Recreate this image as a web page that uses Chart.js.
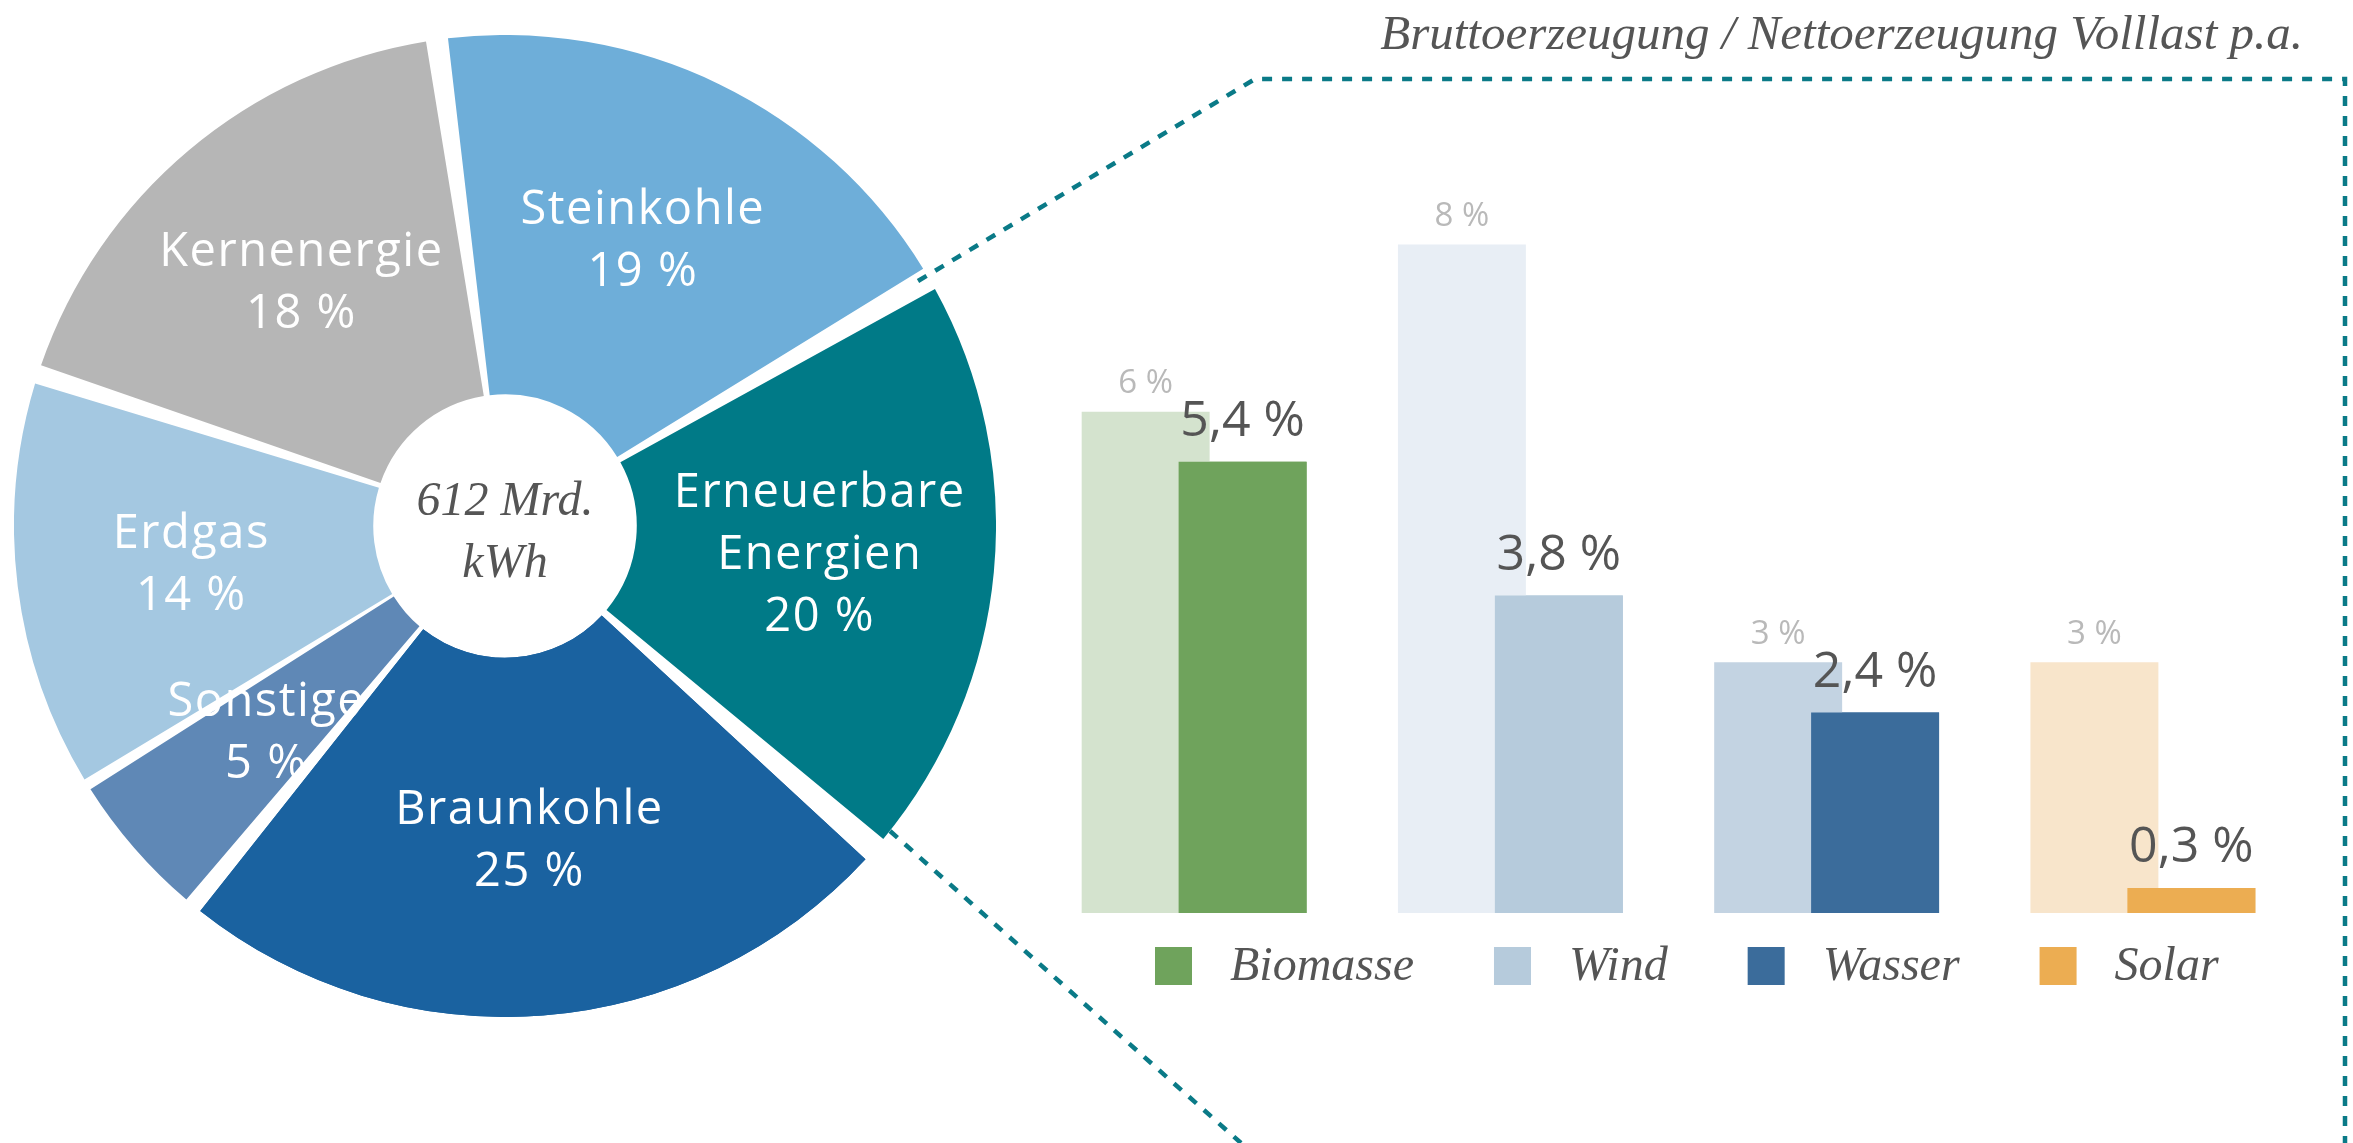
<!DOCTYPE html>
<html lang="de">
<head>
    <meta charset="UTF-8">
    <title>Stromerzeugung 612 Mrd. kWh</title>
    <script src="https://cdn.jsdelivr.net/npm/chart.js"></script>
    <style>
        body { margin: 0; background: #fff; }
        .stage { position: relative; width: 2353px; height: 1143px; overflow: hidden; }
        #pieWrap { position: absolute; left: 14px; top: 35px; width: 982px; height: 982px; }
        #barWrap { position: absolute; left: 1036px; top: 161px; width: 1265px; height: 880px; }
        .caption {
            position: absolute; right: 50px; top: 4px;
            font: italic 49px "Liberation Serif", serif; color: #555; white-space: nowrap;
        }
        svg.frame { position: absolute; left: 0; top: 0; }
    </style>
</head>
<body>
    <div class="stage">
        <svg class="frame" width="2353" height="1143">
            <polyline points="918,281 1255,79 2345,79 2345,1143" fill="none"
                      stroke="#0a7a87" stroke-width="4.5" stroke-dasharray="10 10"/>
            <line x1="890" y1="831" x2="1241" y2="1143"
                  stroke="#0a7a87" stroke-width="4.5" stroke-dasharray="10 10"/>
        </svg>
        <div class="caption">Bruttoerzeugung / Nettoerzeugung Volllast p.a.</div>
        <div id="pieWrap"><canvas id="mixChart"></canvas></div>
        <div id="barWrap"><canvas id="renewChart"></canvas></div>
    </div>

    <script>
        // Strommix (Anteile in %)
        const mixLabels = ['Steinkohle', ['Erneuerbare', 'Energien'], 'Braunkohle', 'Sonstige', 'Erdgas', 'Kernenergie'];
        const mixShare = [19, 20, 25, 5, 14, 18];
        const mixColors = ['#6eaed9', '#007a87', '#1a62a0', '#5f88b6', '#a4c8e1', '#b6b6b6'];
        const totalLines = ['612 Mrd.', 'kWh'];

        // Erneuerbare: brutto / netto (Volllast p.a.)
        const sources = ['Biomasse', 'Wind', 'Wasser', 'Solar'];
        const grossShare = [6, 8, 3, 3];
        const netShare = [5.4, 3.8, 2.4, 0.3];
        const grossColors = ['#d4e3ce', '#e8eef5', '#c3d3e2', '#f8e5cb'];
        const netColors = ['#6fa35c', '#b6cbdc', '#3b6c9b', '#ecad52'];

        function formatPercent(v) {
            return v.toLocaleString('de-DE') + ' %';
        }

        const mixLabelPlugin = {
            id: 'mixLabels',
            afterDatasetsDraw(chart) {
                const ctx = chart.ctx;
                const meta = chart.getDatasetMeta(0);
                ctx.save();
                ctx.textAlign = 'center';
                ctx.textBaseline = 'middle';
                ctx.fillStyle = '#fff';

                const drawLabel = (arc, i) => {
                    const p = arc.getProps(['x', 'y', 'startAngle', 'endAngle', 'outerRadius'], true);
                    const mid = (p.startAngle + p.endAngle) / 2;
                    const r = p.outerRadius * 0.66;
                    const cx = p.x + Math.cos(mid) * r;
                    const cy = p.y + Math.sin(mid) * r;
                    const name = Array.isArray(mixLabels[i]) ? mixLabels[i] : [mixLabels[i]];
                    const lines = name.concat(formatPercent(mixShare[i]));
                    const lh = 62;
                    ctx.font = '47px "Open Sans"';
                    ctx.letterSpacing = '1.5px';
                    lines.forEach((t, k) => {
                        ctx.fillText(t, cx, cy - (lines.length - 1) * lh / 2 + k * lh);
                    });
                };

                // "Sonstige" liegt unter dem Braunkohle-Segment
                drawLabel(meta.data[3], 3);
                meta.data[2].draw(ctx);
                meta.data.forEach((arc, i) => { if (i !== 3) drawLabel(arc, i); });

                // Mitte
                const c = meta.data[0].getProps(['x', 'y'], true);
                ctx.letterSpacing = '0px';
                ctx.fillStyle = '#555';
                ctx.font = 'italic 48px "Liberation Serif"';
                ctx.fillText(totalLines[0], c.x, c.y - 24);
                ctx.fillText(totalLines[1], c.x, c.y + 38);
                ctx.restore();
            }
        };

        const renewLabelPlugin = {
            id: 'renewLabels',
            afterDatasetsDraw(chart) {
                const ctx = chart.ctx;
                const gross = chart.getDatasetMeta(0);
                const net = chart.getDatasetMeta(1);
                // Nettobalken vor die Bruttobalken legen
                net.data.forEach(bar => bar.draw(ctx));

                ctx.save();
                ctx.textAlign = 'center';
                ctx.textBaseline = 'middle';
                ctx.font = '33px "Open Sans"';
                ctx.fillStyle = '#b9b9b9';
                gross.data.forEach((bar, i) => ctx.fillText(formatPercent(grossShare[i]), bar.x, bar.y - 28));
                ctx.font = '50px "Open Sans"';
                ctx.fillStyle = '#555';
                net.data.forEach((bar, i) => ctx.fillText(formatPercent(netShare[i]), bar.x, bar.y - 40));

                // Legende
                ctx.textAlign = 'left';
                ctx.textBaseline = 'alphabetic';
                ctx.font = 'italic 48px "Liberation Serif"';
                let x = 119;
                sources.forEach((name, i) => {
                    ctx.fillStyle = netColors[i];
                    ctx.fillRect(x, 786, 37, 38);
                    ctx.fillStyle = '#555';
                    ctx.fillText(name, x + 37 + 38, 819);
                    x += 37 + 38 + ctx.measureText(name).width + 80;
                });
                ctx.restore();
            }
        };

        new Chart(document.getElementById('mixChart'), {
            type: 'doughnut',
            data: {
                labels: mixLabels,
                datasets: [{
                    data: mixShare,
                    backgroundColor: mixColors,
                    borderWidth: 0,
                    spacing: 24
                }]
            },
            options: {
                responsive: true,
                maintainAspectRatio: false,
                animation: false,
                cutout: '25%',
                rotation: -8,
                layout: { padding: 0 },
                plugins: { legend: { display: false }, tooltip: { enabled: false } }
            },
            plugins: [mixLabelPlugin]
        });

        new Chart(document.getElementById('renewChart'), {
            type: 'bar',
            data: {
                labels: sources,
                datasets: [
                    { label: 'Brutto', data: grossShare, backgroundColor: grossColors,
                      categoryPercentage: 0.613, barPercentage: 1.32 },
                    { label: 'Netto', data: netShare, backgroundColor: netColors,
                      categoryPercentage: 0.613, barPercentage: 1.32 }
                ]
            },
            options: {
                responsive: true,
                maintainAspectRatio: false,
                animation: false,
                layout: { padding: { left: 0, right: 0, top: 0, bottom: 128 } },
                scales: {
                    x: { display: false },
                    y: { display: false, min: 0, max: 9 }
                },
                plugins: { legend: { display: false }, tooltip: { enabled: false } }
            },
            plugins: [renewLabelPlugin]
        });
    </script>
</body>
</html>
